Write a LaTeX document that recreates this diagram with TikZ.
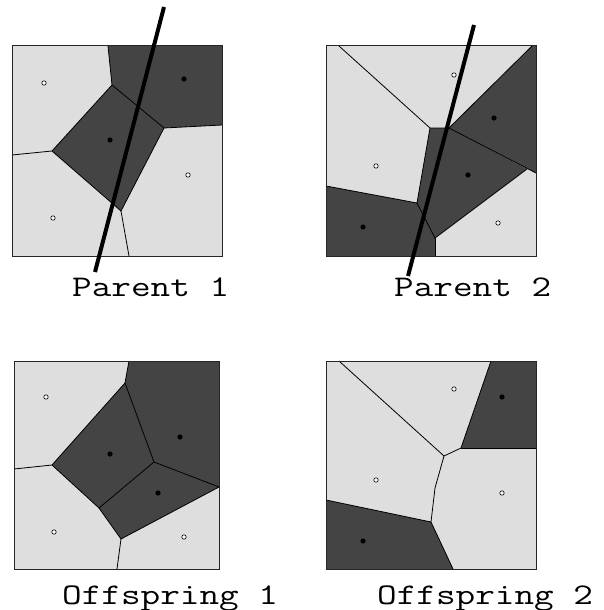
\documentclass[tikz,border=0pt]{standalone}
\usepackage{fontspec}
\definecolor{cellpale}{HTML}{DEDEDE}
\definecolor{celldark}{HTML}{444444}
\newcommand{\capwide}[1]{\scalebox{1.27}[1]{#1}}
\begin{document}
\begin{tikzpicture}[x=1pt, y=-1pt,
   pale/.style={fill=cellpale},
   dark/.style={fill=celldark},
   edge/.style={line width=0.8pt},
   frame/.style={draw=black!85, line width=1pt},
   cut/.style={line width=4pt},
   seed/.style={fill=black},
   void/.style={draw=black, fill=white, line width=0.6pt},
   caption/.style={font=\ttfamily\fontsize{30}{30}\selectfont, inner sep=0pt, anchor=base west}]
   \useasboundingbox (0,0) rectangle (604,610);
   % Parent 1
   \fill[pale] (12,46) rectangle (222,256);
   \fill[dark] (108,46) -- (222,46) -- (222,125) -- (164,128) -- (112,85) -- cycle;
   \fill[dark] (112,85) -- (164,128) -- (121,211) -- (52,151) -- cycle;
   \draw[edge] (108,46)--(112,85)--(164,128)--(222,125);
   \draw[edge] (112,85)--(52,151)--(12,155);
   \draw[edge] (52,151)--(121,211)--(164,128);
   \draw[edge] (121,211)--(129,256);
   \draw[frame] (12,46) rectangle (222,256);
   \draw[void] (44,83) circle (2.2pt);
   \draw[void] (188,175) circle (2.2pt);
   \draw[void] (53,218) circle (2.2pt);
   \fill[seed] (184,79) circle (2.6pt);
   \fill[seed] (110,140) circle (2.6pt);
   \draw[cut] (164,7)--(95,272);
   \node[caption] (parent1) at (72,296) {\capwide{Parent 1}};
   % Parent 2
   \fill[pale] (326,46) rectangle (536,256);
   \fill[dark] (532,46) -- (536,46) -- (536,173) -- (449,128) -- cycle;
   \fill[dark] (430,128) -- (449,128) -- (527,169) -- (435,238) -- (417,203) -- cycle;
   \fill[dark] (326,186) -- (417,203) -- (435,238) -- (435,256) -- (326,256) -- cycle;
   \draw[edge] (339,46)--(430,128)--(449,128)--(532,46);
   \draw[edge] (449,128)--(536,173);
   \draw[edge] (430,128)--(417,203)--(326,186);
   \draw[edge] (417,203)--(435,238)--(527,169);
   \draw[edge] (435,238)--(435,256);
   \draw[frame] (326,46) rectangle (536,256);
   \draw[void] (454,75) circle (2.2pt);
   \draw[void] (376,166) circle (2.2pt);
   \draw[void] (498,223) circle (2.2pt);
   \fill[seed] (494,118) circle (2.6pt);
   \fill[seed] (468,175) circle (2.6pt);
   \fill[seed] (363,227) circle (2.6pt);
   \draw[cut] (474,25)--(408,276);
   \node[caption] (parent2) at (394,296) {\capwide{Parent 2}};
   % Offspring 1
   \fill[pale] (14,361) rectangle (219,569);
   \fill[dark] (129,361) -- (219,361) -- (219,487) -- (154,462) -- (125,383) -- cycle;
   \fill[dark] (125,383) -- (154,462) -- (99,508) -- (52,465) -- cycle;
   \fill[dark] (154,462) -- (219,487) -- (121,539) -- (99,508) -- cycle;
   \draw[edge] (129,361)--(125,383)--(52,465)--(14,469);
   \draw[edge] (125,383)--(154,462)--(219,487);
   \draw[edge] (154,462)--(99,508)--(52,465);
   \draw[edge] (99,508)--(121,539)--(219,487);
   \draw[edge] (121,539)--(117,569);
   \draw[frame] (14,361) rectangle (219,569);
   \draw[void] (46,397) circle (2.2pt);
   \draw[void] (54,532) circle (2.2pt);
   \draw[void] (184,537) circle (2.2pt);
   \fill[seed] (180,437) circle (2.6pt);
   \fill[seed] (110,454) circle (2.6pt);
   \fill[seed] (158,493) circle (2.6pt);
   \node[caption] (offspring1) at (62,604) {\capwide{Offspring 1}};
   % Offspring 2
   \fill[pale] (326,361) rectangle (536,569);
   \fill[dark] (491,361) -- (536,361) -- (536,448) -- (461,448) -- cycle;
   \fill[dark] (326,500) -- (431,522) -- (453,569) -- (326,569) -- cycle;
   \draw[edge] (339,361)--(444,456)--(461,448)--(491,361);
   \draw[edge] (461,448)--(536,448);
   \draw[edge] (444,456)--(435,488)--(431,522)--(326,500);
   \draw[edge] (431,522)--(453,569);
   \draw[frame] (326,361) rectangle (536,569);
   \draw[void] (454,389) circle (2.2pt);
   \draw[void] (376,480) circle (2.2pt);
   \draw[void] (502,493) circle (2.2pt);
   \fill[seed] (502,397) circle (2.6pt);
   \fill[seed] (363,541) circle (2.6pt);
   \node[caption] (offspring2) at (377,604) {\capwide{Offspring 2}};
\end{tikzpicture}
\end{document}
